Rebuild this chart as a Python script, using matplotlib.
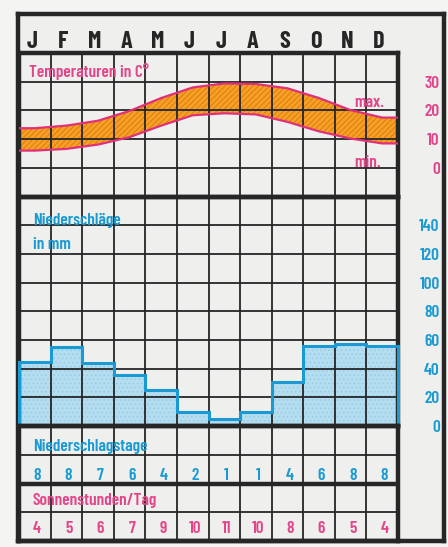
"""Klimadiagramm: Temperatur, Niederschlag, Niederschlagstage, Sonnenstunden."""
import matplotlib.pyplot as plt
import numpy as np

plt.rcParams["font.family"] = ["Barlow Condensed", "Archivo Narrow", "DejaVu Sans"]
plt.rcParams["hatch.linewidth"] = 0.6

# --------------------------------------------------------------------------
# Data
# --------------------------------------------------------------------------
months = ["J", "F", "M", "A", "M", "J", "J", "A", "S", "O", "N", "D"]
temp_max = [13.8, 14.7, 16.4, 19.8, 24.3, 28.0, 29.4, 29.2, 27.7, 24.3, 20.1, 17.5]
temp_min = [6.0, 6.6, 8.1, 10.7, 14.7, 18.3, 19.0, 18.6, 16.0, 12.7, 10.2, 8.5]
precip = [45, 55, 44, 36, 25, 10, 5, 10, 31, 56, 57, 56]
rain_days = [8, 8, 7, 6, 4, 2, 1, 1, 4, 6, 8, 8]
sun_hours = [4, 5, 6, 7, 9, 10, 11, 10, 8, 6, 5, 4]
temp_ticks = [-10, 0, 10, 20, 30, 40]
temp_labels = ["", "0", "10", "20", "30", ""]
precip_ticks = [0, 20, 40, 60, 80, 100, 120, 140, 160]
precip_labels = ["0", "20", "40", "60", "80", "100", "120", "140", ""]

# --------------------------------------------------------------------------
# Style
# --------------------------------------------------------------------------
PAPER = "#efefed"
INK = "#262626"
PINK = "#e2468a"
RED_LINE = "#e0307a"
ORANGE = "#f6a026"
ORANGE_HATCH = "#d9760e"
BLUE = "#1a9ad2"
BLUE_FILL = "#b4ddf0"
BLUE_HATCH = "#96cbe6"
THIN = 1.3
THICK = 3.2
LABEL_SIZE = 12.5
VALUE_SIZE = 12.5

W, H = 448, 547
GX0, GX1 = 19, 398
Y_TOP, Y_END = 53, 541
ROW = (Y_END - Y_TOP) / 17
Y_PRE = Y_TOP + 5 * ROW
Y_ROWS = Y_PRE + 8 * ROW


def fig_box(x0, y0, x1, y1):
    return [x0 / W, 1 - y1 / H, (x1 - x0) / W, (y1 - y0) / H]


def grid_panel(ax, yticks, ylim):
    ax.set_facecolor("none")
    ax.set_xlim(0, 12)
    ax.set_ylim(*ylim)
    ax.set_xticks(range(13))
    ax.set_yticks(yticks)
    ax.tick_params(length=0, labelbottom=False, labelleft=False)
    ax.grid(True, color=INK, lw=THIN)
    ax.set_axisbelow(False)
    for sp in ax.spines.values():
        sp.set_linewidth(THICK)
        sp.set_color(INK)


def right_labels(ax, labels, color):
    ax.yaxis.tick_right()
    ax.set_yticklabels(labels)
    ax.tick_params(axis="y", labelright=True, labelcolor=color,
                   labelsize=VALUE_SIZE, pad=30)
    for lbl in ax.get_yticklabels():
        lbl.set_horizontalalignment("right")
        lbl.set_fontweight("semibold")


fig = plt.figure(figsize=(W / 100, H / 100), dpi=100, facecolor="#f4f4f2")

# outer frame
frame = fig.add_axes(fig_box(18, 14, 444, Y_END), zorder=0)
frame.set_facecolor(PAPER)
frame.set_xticks([])
frame.set_yticks([])
for sp in frame.spines.values():
    sp.set_linewidth(THICK)
    sp.set_color(INK)

# --------------------------------------------------------------------------
# Temperature
# --------------------------------------------------------------------------
ax_t = fig.add_axes(fig_box(GX0, Y_TOP, GX1, Y_PRE), zorder=1)
grid_panel(ax_t, temp_ticks, (-10, 40))
x = np.arange(12) + 0.5
xe = np.r_[0, x, 12]
tmax = np.r_[temp_max[0], temp_max, temp_max[-1]]
tmin = np.r_[temp_min[0], temp_min, temp_min[-1]]
ax_t.fill_between(xe, tmin, tmax, facecolor=ORANGE, edgecolor=ORANGE_HATCH,
                  hatch="//////", lw=0, zorder=1)
ax_t.plot(xe, tmax, color=RED_LINE, lw=1.6, zorder=3)
ax_t.plot(xe, tmin, color=RED_LINE, lw=1.6, zorder=3)
right_labels(ax_t, temp_labels, PINK)

ax_t.text(0.32, 31.6, "Temperaturen in C°", color=PINK, fontsize=LABEL_SIZE,
          fontweight="semibold", va="baseline", zorder=4)
ax_t.text(10.6, 21.2, "max.", color=PINK, fontsize=LABEL_SIZE,
          fontweight="semibold", va="baseline", zorder=4)
ax_t.text(10.6, 0.2, "min.", color=PINK, fontsize=LABEL_SIZE,
          fontweight="semibold", va="baseline", zorder=4)

for i, m in enumerate(months):
    ax_t.text(i + 0.4, 41.6, m, color=INK, fontsize=17.5, fontweight="bold",
              ha="center", va="baseline")

# --------------------------------------------------------------------------
# Precipitation
# --------------------------------------------------------------------------
ax_p = fig.add_axes(fig_box(GX0, Y_PRE, GX1, Y_ROWS), zorder=1)
grid_panel(ax_p, precip_ticks, (0, 160))
edges = np.arange(13)
ax_p.stairs(precip, edges, baseline=0, fill=True, facecolor=BLUE_FILL,
            edgecolor=BLUE_HATCH, hatch="....", lw=0, zorder=1)
ax_p.stairs(precip, edges, baseline=0, color=BLUE, lw=2.2, zorder=3,
            clip_on=False)
right_labels(ax_p, precip_labels, BLUE)

ax_p.text(0.44, 140.1, "Niederschläge", color=BLUE, fontsize=LABEL_SIZE,
          fontweight="semibold", va="baseline", zorder=4)
ax_p.text(0.44, 123.4, "in mm", color=BLUE, fontsize=LABEL_SIZE,
          fontweight="semibold", va="baseline", zorder=4)

# --------------------------------------------------------------------------
# Rain days / sunshine hours
# --------------------------------------------------------------------------
ax_r = fig.add_axes(fig_box(GX0, Y_ROWS, GX1, Y_END), zorder=1)
grid_panel(ax_r, range(5), (4, 0))
ax_r.axhline(2, color=INK, lw=THICK)

ax_r.text(0.44, 0.86, "Niederschlagstage", color=BLUE, fontsize=LABEL_SIZE,
          fontweight="semibold", va="baseline", zorder=4)
ax_r.text(0.44, 2.75, "Sonnenstunden/Tag", color=PINK, fontsize=LABEL_SIZE,
          fontweight="semibold", va="baseline", zorder=4)
for i, (d, s) in enumerate(zip(rain_days, sun_hours)):
    ax_r.text(i + 0.57, 1.87, str(d), color=BLUE, fontsize=VALUE_SIZE,
              fontweight="semibold", ha="center", va="baseline")
    ax_r.text(i + 0.57, 3.72, str(s), color=PINK, fontsize=VALUE_SIZE,
              fontweight="semibold", ha="center", va="baseline")

fig.savefig("out.png", dpi=100, facecolor=fig.get_facecolor())
